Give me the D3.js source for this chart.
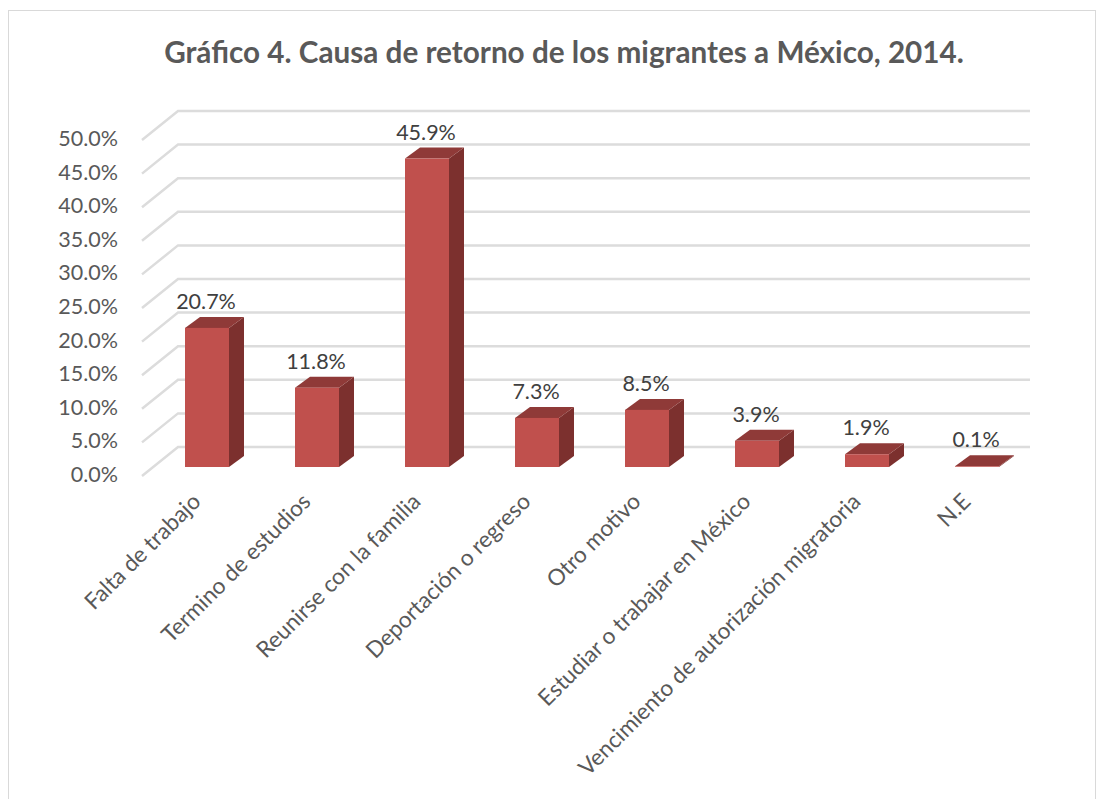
<!DOCTYPE html>
<html><head><meta charset="utf-8">
<script src="https://cdn.jsdelivr.net/npm/d3@7"></script>
<style>html,body{margin:0;padding:0;background:#fff}svg{display:block}text{font-family:Lato,"Open Sans",sans-serif}</style>
</head><body><svg id="c" width="1107" height="799"></svg>
<script>
const categories=["Falta de trabajo","Termino de estudios","Reunirse con la familia","Deportación o regreso","Otro motivo","Estudiar o trabajar en México","Vencimiento de autorización migratoria","N.E"];
const values=[20.7,11.8,45.9,7.3,8.5,3.9,1.9,0.1];
const yTicks=[0,5,10,15,20,25,30,35,40,45,50];
const title="Gráfico 4. Causa de retorno de los migrantes a México, 2014.";

const svg=d3.select("#c");
svg.append("rect").attr("x",8.5).attr("y",10.5).attr("width",1087).attr("height",800).attr("fill","#fff").attr("stroke","#d9d9d9");
svg.append("text").attr("x",564).attr("y",63).attr("text-anchor","middle").attr("font-size",29.7).attr("font-weight",700).attr("fill","#595959").text(title);

const dx=15,dy=11;
const y=d3.scaleLinear().domain([0,50]).range([467,131]);
const x=d3.scaleBand().domain(categories).range([152,1032]).paddingInner(0.6).paddingOuter(0.3);
const wallDx=36,wallDy=29;
const grid=svg.append("g").attr("stroke","#dcdcdc").attr("stroke-width",2.5).attr("fill","none");
yTicks.forEach(t=>{
  const yy=y(t)+9;
  grid.append("path").attr("d",d3.line()([[142,yy],[142+wallDx,yy-wallDy],[1030,yy-wallDy]]));
});
const tickG=svg.append("g").attr("font-size",21.5).attr("fill","#595959").attr("text-anchor","end");
yTicks.forEach(t=>tickG.append("text").attr("x",118).attr("y",y(t)+15).text(t.toFixed(1)+"%"));

const bars=svg.append("g");
categories.forEach((c,i)=>{
  const v=values[i],x0=x(c),w=x.bandwidth(),top=y(v),bot=y(0);
  const g=bars.append("g");
  g.append("path").attr("fill","#7c302e").attr("d",d3.line()([[x0+w,top],[x0+w+dx,top-dy],[x0+w+dx,bot-dy],[x0+w,bot]])+"Z");
  g.append("path").attr("fill","#8f3a38").attr("d",d3.line()([[x0,top],[x0+dx,top-dy],[x0+w+dx,top-dy],[x0+w,top]])+"Z");
  g.append("rect").attr("x",x0).attr("y",top).attr("width",w).attr("height",bot-top).attr("fill","#c0504d");
  svg.append("text").attr("x",x0+w/2-1).attr("y",top-dy-8).attr("text-anchor","middle").attr("font-size",21.5).attr("fill","#404040").text(v.toFixed(1)+"%");
  svg.append("text").attr("transform",`translate(${x0+w/2-5},${bot+36}) rotate(-45)`).attr("text-anchor","end").attr("font-size",22.6).attr("fill","#595959").text(c);
});
</script></body></html>
